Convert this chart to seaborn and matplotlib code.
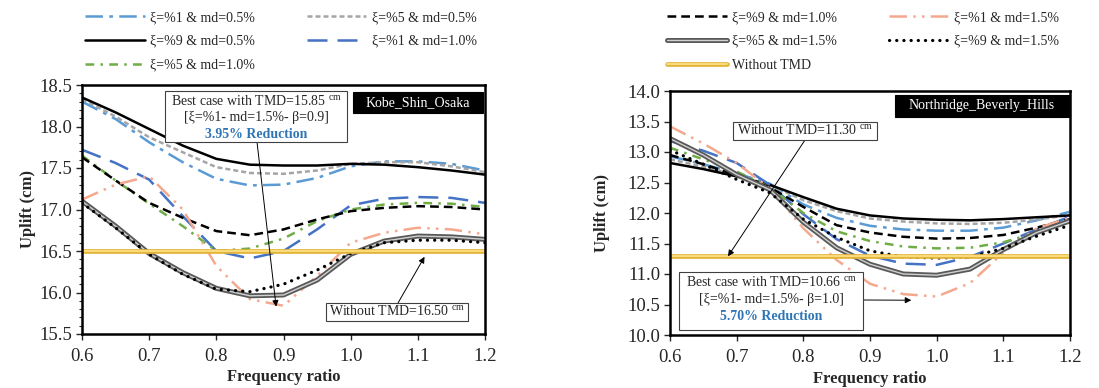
import matplotlib
matplotlib.use("Agg")
import matplotlib.pyplot as plt
import matplotlib.patheffects as pe
from matplotlib.patches import Rectangle
from matplotlib.ticker import FormatStrFormatter, MultipleLocator
import seaborn as sns

# frequency ratio (x axis)
FREQ = [0.60, 0.65, 0.70, 0.75, 0.80, 0.85, 0.90, 0.95, 1.00, 1.05, 1.10, 1.15, 1.20]

LABELS = [
    "ξ=%1 & md=0.5%", "ξ=%5 & md=0.5%", "ξ=%9 & md=0.5%",
    "ξ=%1 & md=1.0%", "ξ=%5 & md=1.0%", "ξ=%9 & md=1.0%",
    "ξ=%1 & md=1.5%", "ξ=%5 & md=1.5%", "ξ=%9 & md=1.5%",
    "Without TMD",
]

# Kobe_Shin_Osaka uplift (cm)
KOBE_X1_MD05 = [18.30, 18.09, 17.81, 17.57, 17.37, 17.29, 17.30, 17.38, 17.52, 17.58, 17.58, 17.55, 17.47]
KOBE_X5_MD05 = [18.33, 18.12, 17.87, 17.69, 17.51, 17.44, 17.43, 17.47, 17.55, 17.57, 17.57, 17.52, 17.45]
KOBE_X9_MD05 = [18.35, 18.17, 17.97, 17.77, 17.61, 17.54, 17.53, 17.53, 17.55, 17.54, 17.51, 17.47, 17.42]
KOBE_X1_MD10 = [17.72, 17.56, 17.36, 16.92, 16.50, 16.41, 16.50, 16.76, 17.05, 17.13, 17.15, 17.14, 17.08]
KOBE_X5_MD10 = [17.65, 17.35, 17.07, 16.80, 16.50, 16.53, 16.65, 16.86, 17.00, 17.06, 17.08, 17.07, 17.03]
KOBE_X9_MD10 = [17.63, 17.35, 17.08, 16.90, 16.74, 16.69, 16.76, 16.88, 16.98, 17.02, 17.04, 17.03, 17.00]
KOBE_X1_MD15 = [17.12, 17.30, 17.40, 17.00, 16.32, 15.92, 15.84, 16.20, 16.60, 16.72, 16.78, 16.76, 16.70]
KOBE_X5_MD15 = [17.10, 16.80, 16.47, 16.24, 16.05, 15.96, 15.97, 16.15, 16.46, 16.62, 16.68, 16.67, 16.64]
KOBE_X9_MD15 = [17.08, 16.78, 16.46, 16.22, 16.04, 16.01, 16.10, 16.27, 16.47, 16.60, 16.63, 16.63, 16.60]
KOBE_NO_TMD = 16.50

# Northridge_Beverly_Hills uplift (cm)
NR_X1_MD05 = [12.93, 12.80, 12.65, 12.48, 12.14, 11.92, 11.79, 11.73, 11.71, 11.71, 11.76, 11.88, 12.02]
NR_X5_MD05 = [12.88, 12.76, 12.62, 12.46, 12.21, 12.03, 11.91, 11.86, 11.83, 11.82, 11.84, 11.89, 11.97]
NR_X9_MD05 = [12.82, 12.72, 12.60, 12.46, 12.26, 12.07, 11.96, 11.91, 11.89, 11.88, 11.90, 11.93, 11.96]
NR_X1_MD10 = [13.18, 13.02, 12.82, 12.46, 11.98, 11.57, 11.30, 11.17, 11.15, 11.28, 11.50, 11.73, 11.94]
NR_X5_MD10 = [13.07, 12.88, 12.68, 12.42, 12.00, 11.70, 11.54, 11.45, 11.42, 11.43, 11.52, 11.68, 11.88]
NR_X9_MD10 = [12.95, 12.80, 12.62, 12.42, 12.10, 11.80, 11.68, 11.61, 11.58, 11.59, 11.64, 11.76, 11.90]
NR_X1_MD15 = [13.42, 13.14, 12.82, 12.40, 11.75, 11.23, 10.84, 10.67, 10.63, 10.85, 11.35, 11.75, 11.92]
NR_X5_MD15 = [13.22, 12.95, 12.63, 12.38, 11.85, 11.43, 11.16, 11.00, 10.98, 11.08, 11.40, 11.68, 11.87]
NR_X9_MD15 = [13.03, 12.80, 12.55, 12.33, 11.90, 11.60, 11.38, 11.28, 11.26, 11.28, 11.42, 11.62, 11.80]
NR_NO_TMD = 11.30

KOBE = [KOBE_X1_MD05, KOBE_X5_MD05, KOBE_X9_MD05, KOBE_X1_MD10, KOBE_X5_MD10,
        KOBE_X9_MD10, KOBE_X1_MD15, KOBE_X5_MD15, KOBE_X9_MD15, [KOBE_NO_TMD] * len(FREQ)]
NORTHRIDGE = [NR_X1_MD05, NR_X5_MD05, NR_X9_MD05, NR_X1_MD10, NR_X5_MD10,
              NR_X9_MD10, NR_X1_MD15, NR_X5_MD15, NR_X9_MD15, [NR_NO_TMD] * len(FREQ)]

LW = 1.8
STYLES = [
    dict(color="#5B9BD5", linewidth=LW, linestyle=(0, (7, 2.5, 1.5, 2.5))),
    dict(color="#A5A5A5", linewidth=LW, linestyle=(0, (2, 1.2))),
    dict(color="black", linewidth=LW, linestyle="-"),
    dict(color="#4472C4", linewidth=LW, linestyle=(0, (8, 4))),
    dict(color="#70AD47", linewidth=LW, linestyle=(0, (3.5, 2.5, 1, 2.5))),
    dict(color="black", linewidth=LW, linestyle=(0, (3.5, 2))),
    dict(color="#F4A98E", linewidth=LW, linestyle=(0, (7, 2.5, 1, 2.5, 1, 2.5))),
    dict(color="#D0D0D0", linewidth=1.0, linestyle="-",
         path_effects=[pe.Stroke(linewidth=3.6, foreground="#595959"), pe.Normal()]),
    dict(color="black", linewidth=2.3, linestyle=(0, (0.05, 2.2)), dash_capstyle="round"),
    dict(color="#FFE48A", linewidth=1.2, linestyle="-",
         path_effects=[pe.Stroke(linewidth=3.4, foreground="#E3B43A"), pe.Normal()]),
]

W, H = 1099, 388
BLUE_TXT = "#2E75B6"

sns.set_theme(style="ticks")
plt.rcParams["font.family"] = ["Liberation Serif", "DejaVu Serif"]
plt.rcParams["mathtext.fontset"] = "custom"
plt.rcParams["mathtext.rm"] = "Liberation Serif"


def px(x, y):
    """Figure fraction from pixel position measured from the top-left."""
    return x / W, 1 - y / H


def draw_site(ax, series, ylim, minor):
    for values, label, style in zip(series, LABELS, STYLES):
        sns.lineplot(x=FREQ, y=values, ax=ax, label=label, legend=False, **style)
    ax.set_xlim(0.6, 1.2)
    ax.set_ylim(*ylim)
    ax.xaxis.set_major_locator(MultipleLocator(0.1))
    ax.yaxis.set_major_locator(MultipleLocator(0.5))
    ax.xaxis.set_major_formatter(FormatStrFormatter("%.1f"))
    ax.yaxis.set_major_formatter(FormatStrFormatter("%.1f"))
    if minor:
        ax.yaxis.set_minor_locator(MultipleLocator(0.1))
        ax.tick_params(axis="y", which="minor", length=2.5, width=0.8, direction="out")
    ax.tick_params(axis="both", which="major", labelsize=13.5, length=4, width=1,
                   direction="out")
    ax.tick_params(axis="x", which="major", pad=6)
    ax.tick_params(axis="y", which="major", pad=3)
    for spine in ax.spines.values():
        spine.set_linewidth(1.8)
        spine.set_color("black")
    ax.set_xlabel("Frequency ratio", fontsize=12, fontweight="bold")
    ax.set_ylabel("Uplift (cm)", fontsize=12, fontweight="bold")


def add_box(fig, x0, y0, x1, y1, face="white", edge="#404040"):
    fx, fy = px(x0, y1)
    fig.add_artist(Rectangle((fx, fy), (x1 - x0) / W, (y1 - y0) / H,
                             transform=fig.transFigure, facecolor=face,
                             edgecolor=edge, linewidth=0.8, zorder=5))


def add_text(fig, x, y, s, **kw):
    fx, fy = px(x, y)
    kw.setdefault("fontsize", 10)
    fig.text(fx, fy, s, ha="center", va="center", zorder=6, **kw)


def add_arrow(fig, ax, start, target):
    ax.annotate("", xy=target, xycoords="data",
                xytext=(start[0], H - start[1]), textcoords="figure pixels",
                arrowprops=dict(arrowstyle="-|>", color="black", lw=0.7,
                                mutation_scale=9, shrinkA=0, shrinkB=0),
                zorder=7, annotation_clip=False)


fig = plt.figure(figsize=(W / 100, H / 100), dpi=100)
ax1 = fig.add_axes([82 / W, 1 - 334 / H, 403 / W, 249 / H])
ax2 = fig.add_axes([670 / W, 1 - 335 / H, 400 / W, 244 / H])

draw_site(ax1, KOBE, (15.5, 18.5), minor=True)
draw_site(ax2, NORTHRIDGE, (10.0, 14.0), minor=False)
ax1.yaxis.set_label_coords(-0.115, 0.5)
ax1.xaxis.set_label_coords(0.5, -0.142)
ax2.yaxis.set_label_coords(-0.15, 0.5)
ax2.xaxis.set_label_coords(0.5, -0.148)

# legends above each panel
leg_kw = dict(loc="upper left", ncol=2, frameon=False, handlelength=4.3,
              handletextpad=0.4, columnspacing=3.7, labelspacing=0.78,
              borderpad=0, borderaxespad=0, prop={"size": 10})
lines1 = ax1.get_lines()
order1 = [0, 2, 4, 1, 3]
fig.legend([lines1[i] for i in order1], [LABELS[i] for i in order1],
           bbox_to_anchor=px(85, 11), **leg_kw)
lines2 = ax2.get_lines()
order2 = [5, 7, 9, 6, 8]
fig.legend([lines2[i] for i in order2], [LABELS[i] for i in order2],
           bbox_to_anchor=px(667, 11), **leg_kw)

# Kobe annotations
add_box(fig, 353, 92, 483, 113, face="black", edge="black")
add_text(fig, 418, 103, "Kobe_Shin_Osaka", color="white")
add_box(fig, 165, 91, 347, 142)
add_text(fig, 256, 102, r"Best case with TMD=15.85 $^{\mathrm{cm}}$")
add_text(fig, 256, 118, "[ξ=%1- md=1.5%- β=0.9]")
add_text(fig, 256, 134, "3.95% Reduction", color=BLUE_TXT, fontweight="bold")
add_arrow(fig, ax1, (257, 142), (0.889, 15.83))
add_box(fig, 326, 303, 468, 321)
add_text(fig, 397, 312, r"Without TMD=16.50 $^{\mathrm{cm}}$")
add_arrow(fig, ax1, (398, 303), (1.11, 16.43))

# Northridge annotations
add_box(fig, 895, 95, 1070, 117, face="black", edge="black")
add_text(fig, 982, 106, "Northridge_Beverly_Hills", color="white")
add_box(fig, 733, 122, 877, 140)
add_text(fig, 805, 131, r"Without TMD=11.30 $^{\mathrm{cm}}$")
add_arrow(fig, ax2, (805, 140), (0.687, 11.29))
add_box(fig, 679, 272, 863, 330)
add_text(fig, 771, 283, r"Best case with TMD=10.66 $^{\mathrm{cm}}$")
add_text(fig, 771, 300, "[ξ=%1- md=1.5%- β=1.0]")
add_text(fig, 771, 316, "5.70% Reduction", color=BLUE_TXT, fontweight="bold")
add_arrow(fig, ax2, (863, 300), (0.962, 10.57))

fig.savefig("out.png", dpi=100, facecolor="white")
